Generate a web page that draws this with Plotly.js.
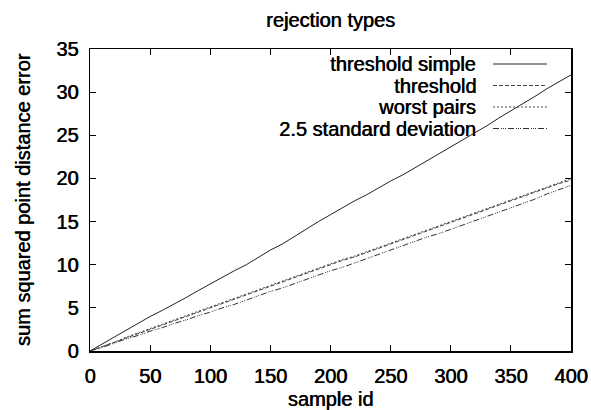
<!DOCTYPE html>
<html><head><meta charset="utf-8">
<script src="https://cdn.plot.ly/plotly-3.0.1.min.js"></script>
<style>body{margin:0;background:#fff}</style>
</head><body><div id="chart" style="width:591px;height:410px"></div>
<script>
const sampleIds = [0,10,20,30,40,50,60,70,80,90,100,110,120,130,140,150,160,170,180,190,200,210,220,230,240,250,260,270,280,290,300,310,320,330,340,350,360,370,380,390,400];
const seriesNames = ["threshold simple","threshold","worst pairs","2.5 standard deviation"];
const thresholdSimple = [0,0.8,1.6,2.4,3.2,4.0,4.7,5.5,6.2,7.0,7.8,8.5,9.3,10.0,10.9,11.7,12.4,13.3,14.2,15.0,15.8,16.6,17.4,18.1,18.9,19.7,20.4,21.2,22.0,22.8,23.6,24.5,25.3,26.1,27.0,27.8,28.7,29.5,30.4,31.2,32.0];
const threshold = [0,0.5,1.0,1.5,2.0,2.5,3.0,3.5,4.0,4.5,5.0,5.5,6.0,6.5,7.0,7.5,8.0,8.5,9.0,9.5,10.0,10.5,10.9,11.4,11.9,12.4,12.9,13.4,13.9,14.4,14.9,15.4,15.9,16.4,16.9,17.4,17.9,18.4,18.9,19.4,19.8];
const worstPairs = [0,0.5,1.0,1.6,2.1,2.6,3.1,3.6,4.1,4.6,5.1,5.6,6.1,6.6,7.1,7.6,8.1,8.6,9.1,9.6,10.1,10.6,11.0,11.5,12.0,12.5,13.0,13.5,14.0,14.5,15.0,15.5,16.0,16.5,17.0,17.5,18.0,18.5,19.0,19.5,20.0];
const stdDev = [0,0.4,0.9,1.4,1.8,2.3,2.7,3.2,3.6,4.1,4.5,5.0,5.4,5.9,6.4,6.9,7.3,7.8,8.3,8.8,9.3,9.7,10.2,10.7,11.2,11.7,12.2,12.7,13.2,13.6,14.1,14.6,15.1,15.6,16.1,16.6,17.1,17.6,18.2,18.7,19.2];
const xTicks = [0,50,100,150,200,250,300,350,400];
const yTicks = [0,5,10,15,20,25,30,35];

const dashes = ["solid","4px,2px","2px,2px","6px,2px,1px,1px,1px,1px,1px,2px"];
const colors = ["#222","#444","#444","#333"];
const ys = [thresholdSimple, threshold, worstPairs, stdDev];
const traces = ys.map((y,i)=>({x:sampleIds,y:y,type:"scatter",mode:"lines",name:seriesNames[i],
  line:{color:colors[i],width:1,dash:dashes[i]},showlegend:false}));

const font = {family:"Liberation Sans, Arial, sans-serif", size:20, color:"#000", shadow:"0.6px 0px 0px #000"};
const annotations = [], shapes = [];
const H = 410;
seriesNames.forEach((n,i)=>{
  const py = 64 + i*21.5;
  const yp = (351-py)/302;
  annotations.push({xref:"paper",yref:"paper",x:(477-90)/481,y:yp,xanchor:"right",yanchor:"middle",text:n,showarrow:false,font:font,borderpad:0});
  shapes.push({type:"line",xref:"paper",yref:"paper",x0:(493-90)/481,x1:(547-90)/481,y0:yp,y1:yp,line:{color:colors[i],width:1,dash:dashes[i]}});
});

const axisCommon = {showline:true,linecolor:"#000",linewidth:1.5,mirror:"ticks",ticks:"inside",ticklen:6,tickcolor:"#000",tickwidth:1,showgrid:false,zeroline:false,tickfont:font,ticklabelstandoff:6};
const layout = {
  width:591,height:410,margin:{l:90,r:20,t:49,b:59},
  paper_bgcolor:"#fff",plot_bgcolor:"#fff",
  title:{text:"rejection types",font:font,x:0.5,xref:"paper",xanchor:"center",yref:"container",y:1-20/H,yanchor:"middle"},
  xaxis:Object.assign({},axisCommon,{range:[0,400],tickvals:xTicks,title:{text:"sample id",font:font,standoff:12}}),
  yaxis:Object.assign({},axisCommon,{range:[0,35],tickvals:yTicks,title:{text:"sum squared point distance error",font:font,standoff:20}}),
  annotations:annotations,shapes:shapes,showlegend:false
};
Plotly.newPlot("chart",traces,layout,{staticPlot:true});
</script></body></html>
